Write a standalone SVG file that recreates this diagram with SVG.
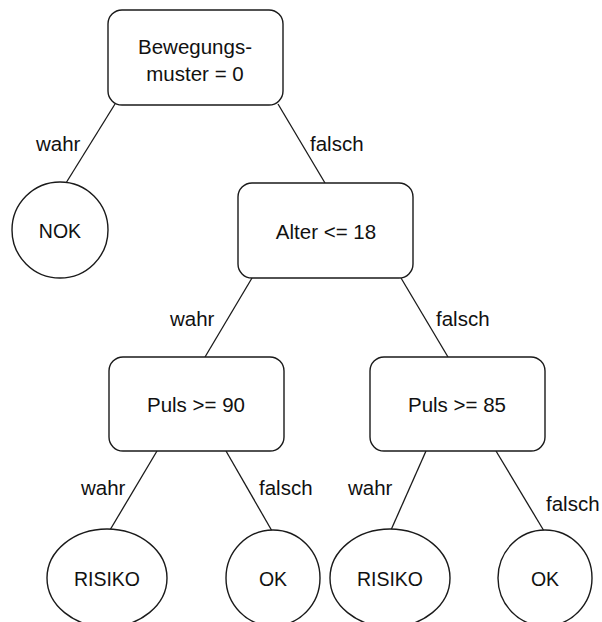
<svg xmlns="http://www.w3.org/2000/svg" width="602" height="622" viewBox="0 0 602 622">
  <style>
    .box { fill: #ffffff; stroke: #1a1a1a; stroke-width: 1.4; }
    .leaf { fill: #ffffff; stroke: #1a1a1a; stroke-width: 1.4; }
    .edge { stroke: #1a1a1a; stroke-width: 1.3; fill: none; }
    text { font-family: "Liberation Sans", Arial, sans-serif; font-size: 20.5px; fill: #111111; }
    .c { text-anchor: middle; }
    .caps { font-size: 19.5px; }
  </style>
  <rect width="602" height="622" fill="#ffffff"/>

  <!-- connectors with their labels -->
  <g id="connectors">
    <line class="edge" x1="115" y1="104" x2="66" y2="183"/>
    <line class="edge" x1="278" y1="104" x2="325" y2="183"/>
    <line class="edge" x1="252" y1="278" x2="205" y2="357"/>
    <line class="edge" x1="401" y1="278" x2="448" y2="357"/>
    <line class="edge" x1="157" y1="451" x2="110" y2="530"/>
    <line class="edge" x1="226" y1="451" x2="272" y2="531"/>
    <line class="edge" x1="426" y1="451" x2="391" y2="530"/>
    <line class="edge" x1="496" y1="451" x2="544" y2="531"/>
    <text x="36" y="151">wahr</text>
    <text x="310" y="151">falsch</text>
    <text x="170" y="326">wahr</text>
    <text x="436" y="326">falsch</text>
    <text x="81" y="495">wahr</text>
    <text x="259" y="495">falsch</text>
    <text x="348" y="495">wahr</text>
    <text x="546" y="511">falsch</text>
  </g>

  <g id="root">
    <rect class="box" x="108" y="10" width="175" height="95" rx="14"/>
    <text class="c" x="195" y="54">Bewegungs-</text>
    <text class="c" x="195" y="81">muster = 0</text>
  </g>

  <g id="nok">
    <circle class="leaf" cx="60" cy="230" r="48"/>
    <text class="c caps" x="60" y="238">NOK</text>
  </g>

  <g id="alter">
    <rect class="box" x="238" y="183" width="175" height="95" rx="14"/>
    <text class="c" x="326" y="239">Alter &lt;= 18</text>
  </g>

  <g id="puls90">
    <rect class="box" x="109" y="357" width="175" height="94" rx="14"/>
    <text class="c" x="196" y="412">Puls &gt;= 90</text>
  </g>

  <g id="puls85">
    <rect class="box" x="370" y="357" width="175" height="94" rx="14"/>
    <text class="c" x="457" y="412">Puls &gt;= 85</text>
  </g>

  <g id="risiko1">
    <ellipse class="leaf" cx="107" cy="578" rx="60" ry="49"/>
    <text class="c caps" x="107" y="586">RISIKO</text>
  </g>

  <g id="ok1">
    <ellipse class="leaf" cx="273" cy="578" rx="47" ry="48"/>
    <text class="c caps" x="273" y="586">OK</text>
  </g>

  <g id="risiko2">
    <ellipse class="leaf" cx="390" cy="578" rx="60" ry="49"/>
    <text class="c caps" x="390" y="586">RISIKO</text>
  </g>

  <g id="ok2">
    <ellipse class="leaf" cx="545" cy="578" rx="47" ry="48"/>
    <text class="c caps" x="545" y="586">OK</text>
  </g>
</svg>
